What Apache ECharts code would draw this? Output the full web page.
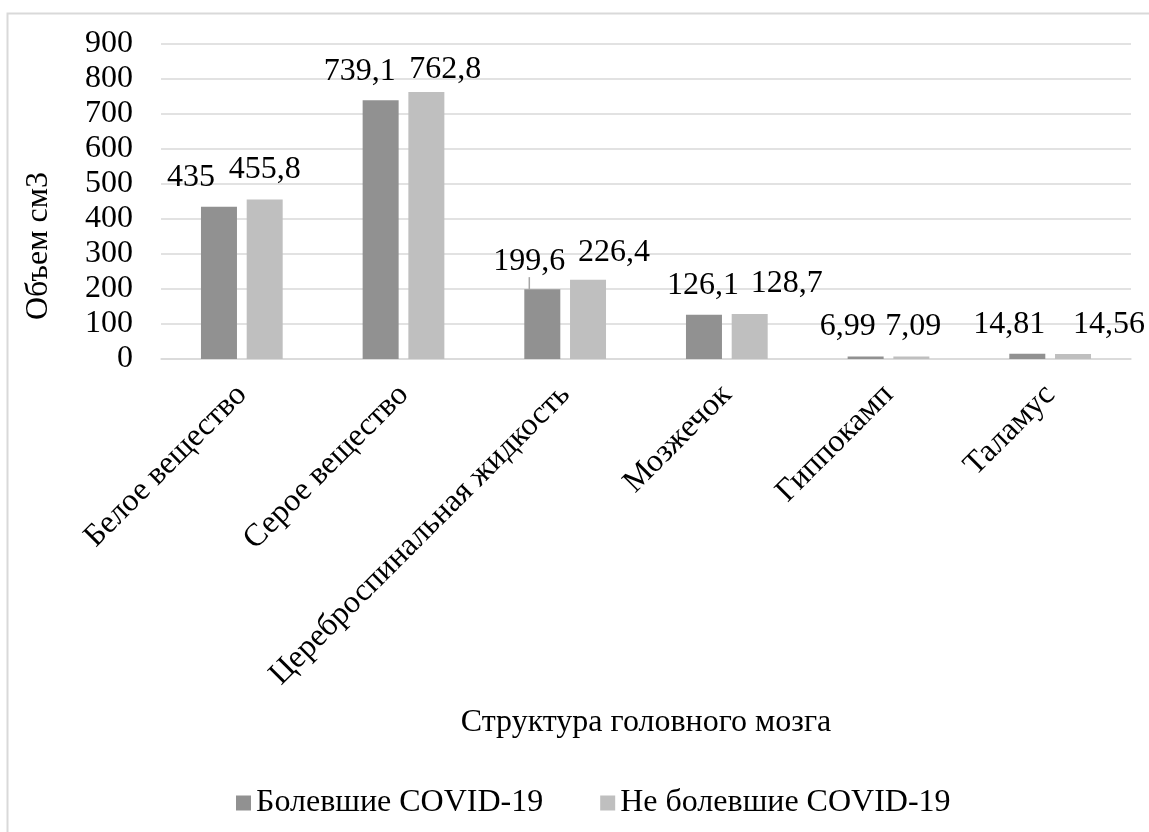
<!DOCTYPE html>
<html>
<head>
<meta charset="utf-8">
<script src="https://cdn.jsdelivr.net/npm/echarts@6/dist/echarts.min.js"></script>
<style>
html,body{margin:0;padding:0;background:#fff;}
#chart{width:1149px;height:832px;}
</style>
</head>
<body>
<div id="chart"></div>
<script>
// ---- data ----
const categories = ['Белое вещество', 'Серое вещество', 'Цереброспинальная жидкость', 'Мозжечок', 'Гиппокамп', 'Таламус'];
const covidValues = [435, 739.1, 199.6, 126.1, 6.99, 14.81];
const noCovidValues = [455.8, 762.8, 226.4, 128.7, 7.09, 14.56];
const seriesNames = ['Болевшие COVID-19', 'Не болевшие COVID-19'];
const yAxisTitle = 'Объем см3';
const xAxisTitle = 'Структура головного мозга';
const yMin = 0, yMax = 900, yStep = 100;

// ---- label nudges (as moved by hand in the original) ----
const labelShift = [
  [[-28, 0], [-21, 0], [-13, 1], [-1, 0], [-18, -1], [-18, 0]],
  [[0, -1], [19, 7], [26, 2], [37, -1], [2, -1], [36, 0]]
];

const FONT = "'Liberation Serif', 'Times New Roman', serif";
const FS = 32;
const colors = ['#919191', '#bfbfbf'];

const chart = echarts.init(document.getElementById('chart'), null, {renderer: 'canvas'});

function fmt(v) { return String(v).replace('.', ','); }

function makeSeries(idx, values) {
  return {
    name: seriesNames[idx],
    type: 'bar',
    barWidth: 36,
    barGap: '27%',
    itemStyle: {color: colors[idx]},
    data: values.map(function (v, i) {
      if (idx === 0 && i === 2) {
        return {value: v, labelLine: {show: true, lineStyle: {color: '#a6a6a6', width: 1.5}}};
      }
      return v;
    }),
    label: {
      show: true,
      position: 'top',
      distance: 13,
      color: '#000',
      fontFamily: FONT,
      fontSize: FS,
      lineHeight: FS,
      formatter: function (p) { return fmt(p.value); }
    },
    labelLayout: function (p) {
      const s = labelShift[idx][p.dataIndex];
      return {dx: s[0], dy: s[1]};
    }
  };
}

const option = {
  backgroundColor: '#fff',
  animation: false,
  grid: {left: 161, right: 18, top: 44, bottom: 473, containLabel: false},
  legend: {
    left: 231,
    top: 782,
    icon: 'rect',
    itemWidth: 15,
    itemHeight: 15,
    itemGap: 57,
    textStyle: {fontFamily: FONT, fontSize: FS, color: '#000'},
    data: seriesNames
  },
  xAxis: {
    type: 'category',
    data: categories,
    name: xAxisTitle,
    nameLocation: 'middle',
    nameGap: 348,
    nameTextStyle: {fontFamily: FONT, fontSize: FS, color: '#000'},
    axisLine: {show: true, lineStyle: {color: '#d9d9d9', width: 1.5}},
    axisTick: {show: false},
    axisLabel: {
      interval: 0,
      rotate: 45,
      margin: 31,
      fontFamily: FONT,
      fontSize: FS,
      color: '#000'
    }
  },
  yAxis: {
    type: 'value',
    min: yMin,
    max: yMax,
    interval: yStep,
    axisLine: {show: false},
    axisTick: {show: false},
    splitLine: {lineStyle: {color: '#d9d9d9', width: 1.5}},
    axisLabel: {
      margin: 28,
      fontFamily: FONT,
      fontSize: FS,
      color: '#000'
    }
  },
  graphic: [
    {
      type: 'rect',
      shape: {x: 7.5, y: 13.5, width: 1300, height: 1000},
      style: {fill: 'none', stroke: '#d9d9d9', lineWidth: 2},
      silent: true,
      z: -10
    },
    {
      type: 'text',
      x: 39,
      y: 246,
      rotation: Math.PI / 2,
      style: {
        text: yAxisTitle,
        fontFamily: FONT,
        fontSize: FS,
        fill: '#000',
        textAlign: 'center',
        textVerticalAlign: 'middle'
      }
    }
  ],
  series: [makeSeries(0, covidValues), makeSeries(1, noCovidValues)]
};

chart.setOption(option);
</script>
</body>
</html>
